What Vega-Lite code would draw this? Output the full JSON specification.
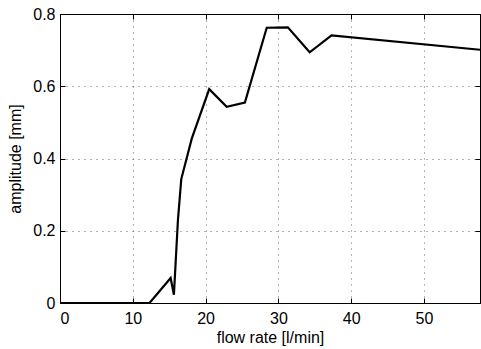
{
  "$schema": "https://vega.github.io/schema/vega-lite/v6.json",
  "autosize": "none",
  "padding": {"left": 60, "top": 14, "right": 1, "bottom": 46},
  "width": 420,
  "height": 289,
  "background": "white",
  "config": {
    "view": {"stroke": "black", "strokeWidth": 1},
    "font": "Liberation Sans",
    "axis": {
      "domainColor": "black",
      "tickColor": "black",
      "labelColor": "black",
      "titleColor": "black",
      "labelFont": "Liberation Sans",
      "titleFont": "Liberation Sans",
      "titleFontWeight": "normal",
      "tickSize": -5,
      "grid": true,
      "gridColor": "#666666",
      "gridDash": [1, 5],
      "gridWidth": 1
    }
  },
  "data": {
    "values": [
      {"flow": 0, "amp": 0},
      {"flow": 12.3, "amp": 0.0},
      {"flow": 15.2, "amp": 0.069},
      {"flow": 15.65, "amp": 0.023},
      {"flow": 16.2, "amp": 0.229},
      {"flow": 16.66, "amp": 0.343},
      {"flow": 18.1, "amp": 0.455},
      {"flow": 20.5, "amp": 0.592},
      {"flow": 22.9, "amp": 0.543},
      {"flow": 25.4, "amp": 0.555},
      {"flow": 28.4, "amp": 0.762},
      {"flow": 31.3, "amp": 0.763},
      {"flow": 34.3, "amp": 0.694},
      {"flow": 37.3, "amp": 0.741},
      {"flow": 57.7, "amp": 0.701}
    ]
  },
  "layer": [
    {
      "mark": {"type": "line", "color": "black", "strokeWidth": 2.2, "clip": true},
      "encoding": {
        "x": {
          "field": "flow", "type": "quantitative",
          "scale": {"domain": [0, 57.7], "nice": false, "zero": false},
          "axis": {"values": [0, 10, 20, 30, 40, 50], "title": "flow rate [l/min]", "titleFontSize": 16, "labelFontSize": 16, "titlePadding": 3, "labelPadding": 12, "format": "d"}
        },
        "y": {
          "field": "amp", "type": "quantitative",
          "scale": {"domain": [0, 0.8], "nice": false},
          "axis": {"values": [0, 0.2, 0.4, 0.6, 0.8], "title": "amplitude [mm]", "titleFontSize": 16, "labelFontSize": 16, "titlePadding": 9, "labelPadding": 10, "labelExpr": "datum.value == 0 ? '0' : format(datum.value, '.1f')"}
        }
      }
    },
    {
      "mark": {"type": "line", "opacity": 0},
      "encoding": {
        "x": {
          "field": "flow", "type": "quantitative",
          "scale": {"domain": [0, 57.7], "nice": false, "zero": false},
          "axis": {"orient": "top", "values": [0, 10, 20, 30, 40, 50], "labels": false, "title": null, "grid": false}
        },
        "y": {
          "field": "amp", "type": "quantitative",
          "scale": {"domain": [0, 0.8], "nice": false},
          "axis": {"orient": "right", "values": [0, 0.2, 0.4, 0.6, 0.8], "labels": false, "title": null, "grid": false}
        }
      }
    }
  ],
  "resolve": {"axis": {"x": "independent", "y": "independent"}}
}
